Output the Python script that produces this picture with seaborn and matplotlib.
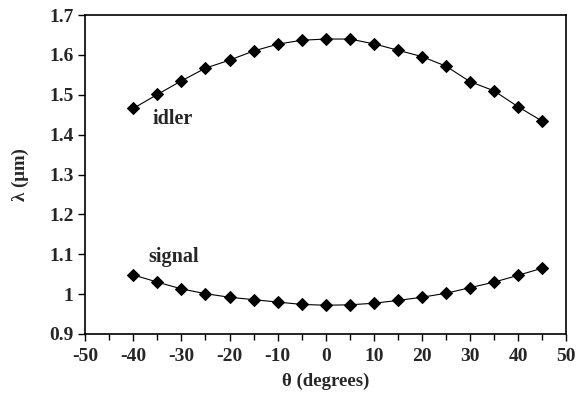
import numpy as np
import pandas as pd
import matplotlib.pyplot as plt
import seaborn as sns
from matplotlib.ticker import MultipleLocator

# Data
theta = [-40, -35, -30, -25, -20, -15, -10, -5, 0, 5, 10, 15, 20, 25, 30, 35, 40, 45]
idler = [1.466, 1.501, 1.535, 1.567, 1.587, 1.610, 1.627, 1.637, 1.640, 1.640, 1.628,
         1.612, 1.596, 1.572, 1.533, 1.510, 1.470, 1.434]
signal = [1.048, 1.030, 1.013, 1.001, 0.992, 0.986, 0.980, 0.974, 0.972, 0.973, 0.977,
          0.984, 0.992, 1.002, 1.016, 1.030, 1.047, 1.065]

df = pd.DataFrame({"theta": theta, "idler": idler, "signal": signal})

sns.set_style("ticks")
plt.rcParams["font.family"] = ["Liberation Serif", "DejaVu Serif"]
plt.rcParams["font.weight"] = "bold"
plt.rcParams["axes.unicode_minus"] = False

fig = plt.figure(figsize=(5.76, 3.98), dpi=100)
ax = fig.add_axes([0.148, 0.161, 0.835, 0.801])

for col in ["idler", "signal"]:
    sns.lineplot(data=df, x="theta", y=col, ax=ax, color="black", marker="D",
                 markersize=6, markeredgecolor="black", linewidth=0.8)

ax.text(-36, 1.427, "idler", fontsize=14.5, fontweight="bold")
ax.text(-36.8, 1.080, "signal", fontsize=14.5, fontweight="bold")

ax.set_xlim(-50, 50)
ax.set_ylim(0.9, 1.7)
ax.xaxis.set_major_locator(MultipleLocator(10))
ax.xaxis.set_minor_locator(MultipleLocator(5))
ax.yaxis.set_major_locator(MultipleLocator(0.1))
ax.yaxis.set_major_formatter(plt.FuncFormatter(lambda v, p: f"{v:g}" if abs(v - 1) > 1e-9 else "1"))
ax.tick_params(axis="both", which="major", labelsize=14, length=5, width=1, color="black")
ax.tick_params(axis="x", which="major", pad=5)
ax.tick_params(axis="x", which="minor", length=4, width=1, color="black")
for lab in ax.get_xticklabels() + ax.get_yticklabels():
    lab.set_fontweight("bold")

for s in ax.spines.values():
    s.set_linewidth(1.2)
    s.set_color("black")

ax.set_xlabel("θ (degrees)", fontsize=13.5, fontweight="bold", labelpad=6)
ax.set_ylabel("λ (μm)", fontsize=13.5, fontweight="bold", labelpad=14)

fig.savefig("out.png", dpi=100)
